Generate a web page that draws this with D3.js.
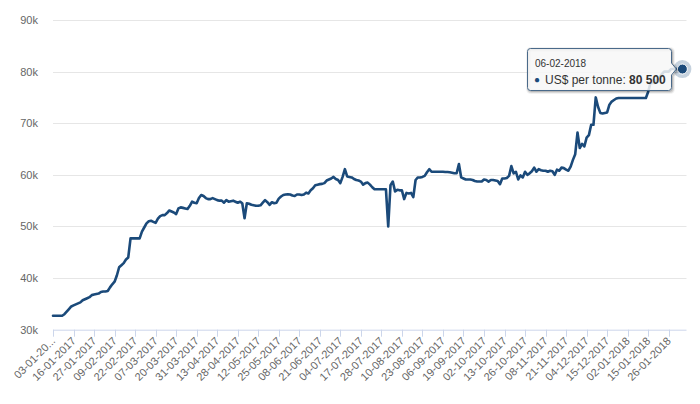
<!DOCTYPE html>
<html>
<head>
<meta charset="utf-8">
<script src="https://cdn.jsdelivr.net/npm/d3@7"></script>
<style>
body { margin: 0; background: #fff; }
svg { font-family: "Liberation Sans", Arial, sans-serif; }
</style>
</head>
<body>
<script>
// one label every 9 trading days
const tickLabels = ["03-01-2017", "16-01-2017", "27-01-2017", "09-02-2017", "22-02-2017", "07-03-2017",
  "20-03-2017", "31-03-2017", "13-04-2017", "28-04-2017", "12-05-2017", "25-05-2017", "08-06-2017",
  "21-06-2017", "04-07-2017", "17-07-2017", "28-07-2017", "10-08-2017", "23-08-2017", "06-09-2017",
  "19-09-2017", "02-10-2017", "13-10-2017", "26-10-2017", "08-11-2017", "21-11-2017", "04-12-2017",
  "15-12-2017", "02-01-2018", "15-01-2018", "26-01-2018"];
const tickEvery = 9;

const yTicks = [30000, 40000, 50000, 60000, 70000, 80000, 90000];

const seriesName = "US$ per tonne";
const lastDate = "06-02-2018";

// daily price
const prices = [
  32700, 32700, 32700, 32700, 32700, 33000, 33500, 34000, 34500, 34700,
  34900, 35100, 35300, 35700, 35900, 36100, 36300, 36700, 36800, 36900,
  37000, 37300, 37400, 37400, 37500, 38200, 38800, 39300, 40500, 42100,
  42500, 42900, 43600, 44000, 47700, 47700, 47700, 47700, 47700, 49000,
  49800, 50600, 51000, 51100, 50900, 50700, 51500, 52000, 52200, 52200,
  52600, 53100, 52900, 52700, 52400, 53500, 53700, 53600, 53500, 53400,
  54000, 54800, 54600, 54500, 55500, 56100, 55900, 55500, 55300, 55300,
  55500, 55300, 55100, 55000, 55000, 54600, 55100, 54800, 54900, 55000,
  54800, 54600, 54800, 54500, 51600, 54500, 54400, 54200, 54100, 54000,
  54000, 54100, 54600, 55100, 54700, 54200, 54700, 54500, 54600, 55400,
  55800, 56100, 56200, 56250, 56200, 56000, 55900, 56200, 56200, 56100,
  56200, 56550, 56400, 57000, 57400, 58000, 58100, 58200, 58250, 58400,
  58900, 59100, 59300, 59600, 59200, 59000, 58400, 59600, 61100, 59700,
  59600, 59500, 59200, 59000, 58900, 58700, 58100, 58400, 58500, 58100,
  57600, 57200, 57200, 57200, 57200, 57200, 57200, 50000, 58000, 58700,
  56800, 57100, 57000, 57000, 55300, 56500, 56400, 56500, 55700, 59000,
  59500, 59500, 59600, 59800, 60500, 61100, 60600, 60600, 60600, 60600,
  60600, 60600, 60550, 60550, 60500, 60400, 60300, 60300, 62100, 59500,
  59300, 59100, 59100, 59100, 59000, 58800, 58700, 58700, 58700, 59100,
  59000, 58700, 59000, 59000, 58900, 58800, 58200, 59300, 59300, 59400,
  59800, 61700, 60300, 60600, 59100, 59900, 59500, 60600, 60000, 60300,
  60700, 61400, 60600, 61100, 60900, 60800, 60800, 60600, 60800, 60700,
  60000, 61000, 60800, 61400, 61300, 61000, 60800, 61600, 62900, 64000,
  68200, 65200, 66000, 65500, 67200, 67700, 69700, 69700, 75000, 73200,
  72000, 71900, 72000, 72100, 73600, 74200, 74500, 74800, 74900, 74900,
  74900, 74900, 74900, 74900, 74900, 74900, 74900, 74900, 74900, 74900,
  74900, 76100, 77800, 77800, 77800, 78500, 79000, 79500, 80000, 80000,
  80000, 80500, 80500, 80500, 80500, 80500, 80500
];

const lineColor = "#1b4a7a";
const plotL = 53, plotR = 686.5, plotT = 20, plotB = 329.7;

const svg = d3.select("body")
    .append("svg")
    .attr("width", 700)
    .attr("height", 404);

const x = d3.scaleLinear()
    .domain([0, prices.length - 1])
    .range([plotL, plotL + (prices.length - 1) * 2.2804]);

const y = d3.scaleLinear()
    .domain([30000, 90000])
    .range([plotB, plotT]);

// grid + y labels
svg.append("g").selectAll("line")
    .data(yTicks.slice(1))
    .enter()
    .append("line")
    .attr("x1", plotL)
    .attr("x2", plotR)
    .attr("y1", d => Math.round(y(d)) + 0.5)
    .attr("y2", d => Math.round(y(d)) + 0.5)
    .attr("stroke", "#e6e6e6");

svg.append("g").selectAll("text")
    .data(yTicks)
    .enter()
    .append("text")
    .attr("x", 38)
    .attr("y", d => y(d) + 4)
    .attr("text-anchor", "end")
    .attr("fill", "#666")
    .attr("font-size", 11)
    .text(d => (d / 1000) + "k");

// x axis
const xa = svg.append("g");
xa.append("line")
    .attr("x1", plotL).attr("x2", plotR)
    .attr("y1", plotB + 0.5).attr("y2", plotB + 0.5)
    .attr("stroke", "#ccd6eb");

xa.selectAll("line.tick")
    .data(tickLabels)
    .enter()
    .append("line")
    .attr("class", "tick")
    .attr("x1", (d, i) => Math.round(x(i * tickEvery)) + 0.5)
    .attr("x2", (d, i) => Math.round(x(i * tickEvery)) + 0.5)
    .attr("y1", plotB)
    .attr("y2", plotB + 7)
    .attr("stroke", "#ccd6eb");

xa.selectAll("text")
    .data(tickLabels)
    .enter()
    .append("text")
    .attr("transform", (d, i) => `translate(${x(i * tickEvery) + 3}, ${plotB + 12}) rotate(-45)`)
    .attr("text-anchor", "end")
    .attr("fill", "#666")
    .attr("font-size", 11)
    .text((d, i) => i === 0 ? d.slice(0, 8) + "..." : d);

// series
const line = d3.line()
    .x((d, i) => x(i))
    .y(d => y(d));

svg.append("path")
    .datum(prices)
    .attr("d", line)
    .attr("fill", "none")
    .attr("stroke", lineColor)
    .attr("stroke-width", 2.6)
    .attr("stroke-linejoin", "round")
    .attr("stroke-linecap", "round");

// hovered point
const lastI = prices.length - 1;
const px = x(lastI), py = y(prices[lastI]);
svg.append("circle")
    .attr("cx", px).attr("cy", py).attr("r", 9)
    .attr("fill", lineColor).attr("opacity", 0.25);
svg.append("circle")
    .attr("cx", px).attr("cy", py).attr("r", 5)
    .attr("fill", lineColor).attr("stroke", "#fff").attr("stroke-width", 1);

// tooltip
const bx0 = 527.5, bx1 = 671.5, by0 = 48.5, by1 = 90.5, r = 3;
const callout = `M${bx0 + r},${by0} L${bx1 - r},${by0} Q${bx1},${by0} ${bx1},${by0 + r}
  L${bx1},${py - 6} L${px - 6},${py} L${bx1},${py + 6}
  L${bx1},${by1 - r} Q${bx1},${by1} ${bx1 - r},${by1} L${bx0 + r},${by1}
  Q${bx0},${by1} ${bx0},${by1 - r} L${bx0},${by0 + r} Q${bx0},${by0} ${bx0 + r},${by0} Z`;

const tip = svg.append("g");
[3, 2, 1].forEach(k => {
  tip.append("path")
      .attr("d", callout)
      .attr("transform", "translate(1,1)")
      .attr("fill", "none")
      .attr("stroke", "#000")
      .attr("stroke-opacity", 0.05 * k)
      .attr("stroke-width", 2 * (4 - k) - 1);
});
tip.append("path")
    .attr("d", callout)
    .attr("fill", "rgba(247,247,247,0.85)")
    .attr("stroke", "#4a6a8a")
    .attr("stroke-width", 1);

tip.append("text")
    .attr("x", 535).attr("y", 67)
    .attr("font-size", 10)
    .attr("fill", "#333")
    .text(lastDate);

tip.append("text")
    .attr("x", 534).attr("y", 83)
    .attr("font-size", 10)
    .attr("fill", lineColor)
    .text("\u25CF");

const t = tip.append("text")
    .attr("x", 545).attr("y", 83.5)
    .attr("font-size", 12)
    .attr("fill", "#333");
t.append("tspan").text(seriesName + ": ");
t.append("tspan")
    .attr("font-weight", "bold")
    .text(d3.format(",")(prices[lastI]).replace(/,/g, " "));
</script>
</body>
</html>
